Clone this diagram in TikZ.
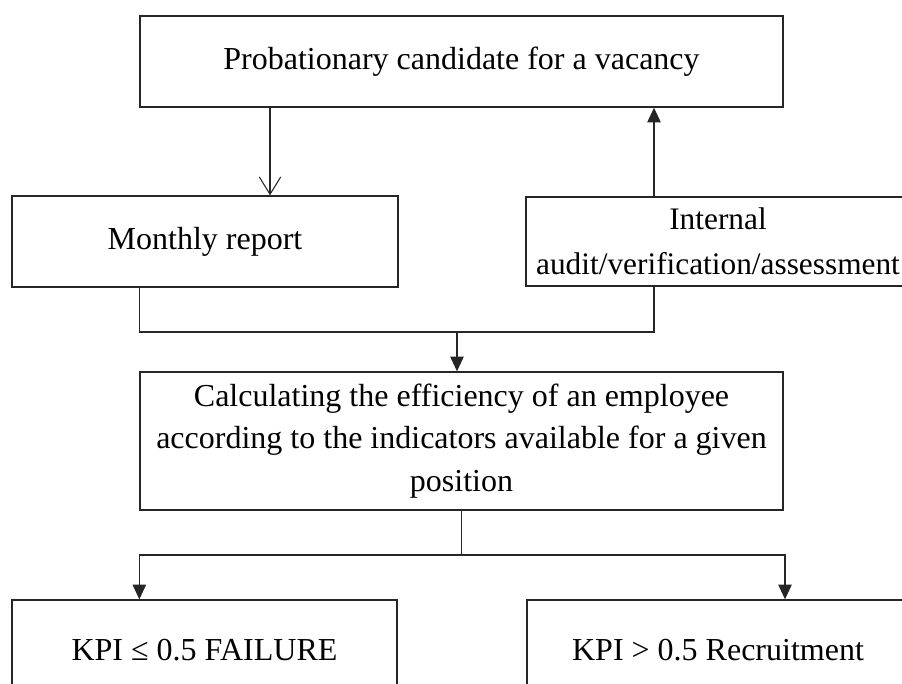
\documentclass[tikz,border=0pt]{standalone}
\usepackage{fontspec}
\setmainfont{Liberation Serif}
\usetikzlibrary{arrows.meta}

\begin{document}
\begin{tikzpicture}
  [x=0.75pt,y=-0.75pt,
  box/.style={draw=black!85,line width=1pt,inner sep=0pt,align=center,
    font=\fontsize{24}{32}\selectfont},
  link/.style={draw=black!85,line width=1pt},
  tri/.style={link,-{Triangle[length=11pt,width=10pt]}},
  barb/.style={link,-{Straight Barb[length=13pt,width=16pt,line width=0.8pt]}}]
  \useasboundingbox (0,0) rectangle (902,683);

  \node[box,minimum width=482.25pt,minimum height=68.25pt] (cand) at (461.5,61.5)
    {Probationary candidate for a vacancy};

  \node[box,minimum width=289.5pt,minimum height=68.25pt] (report) at (205,241.5)
    {Monthly report};
  \node[box,minimum width=288pt,minimum height=66.75pt,
    font=\fontsize{23.5}{33.5}\selectfont] (audit) at (718,241.5)
    {Internal\\audit/verification/assessment};

  \node[box,minimum width=482.25pt,minimum height=103.5pt] (calc) at (461.5,441)
    {Calculating the efficiency of an employee\\according to the indicators available for a given\\position};

  \node[box,minimum width=288.75pt,minimum height=75pt] (fail) at (204.5,650)
    {KPI ≤ 0.5 FAILURE};
  \node[box,minimum width=286.5pt,minimum height=75pt] (hire) at (718,650)
    {KPI > 0.5 Recruitment};

  \coordinate (xdown) at (270,0);
  \coordinate (xup) at (654,0);
  \coordinate (merge) at (457,332);
  \coordinate (split) at (461.5,555);
  \coordinate (xright) at (785,0);

  \draw [barb] (cand.south -| xdown) -- (report.north -| xdown);
  \draw [tri] (audit.north -| xup) -- (cand.south -| xup);

  \draw [link] (report.south -| calc.west) |- (merge) -| (audit.south -| xup);
  \draw [tri] (merge) -- (calc.north -| merge);

  \draw [link] (calc.south) -- (split);
  \draw [tri] (split) -| (fail.north -| calc.west);
  \draw [tri] (split) -| (hire.north -| xright);

\end{tikzpicture}
\end{document}
